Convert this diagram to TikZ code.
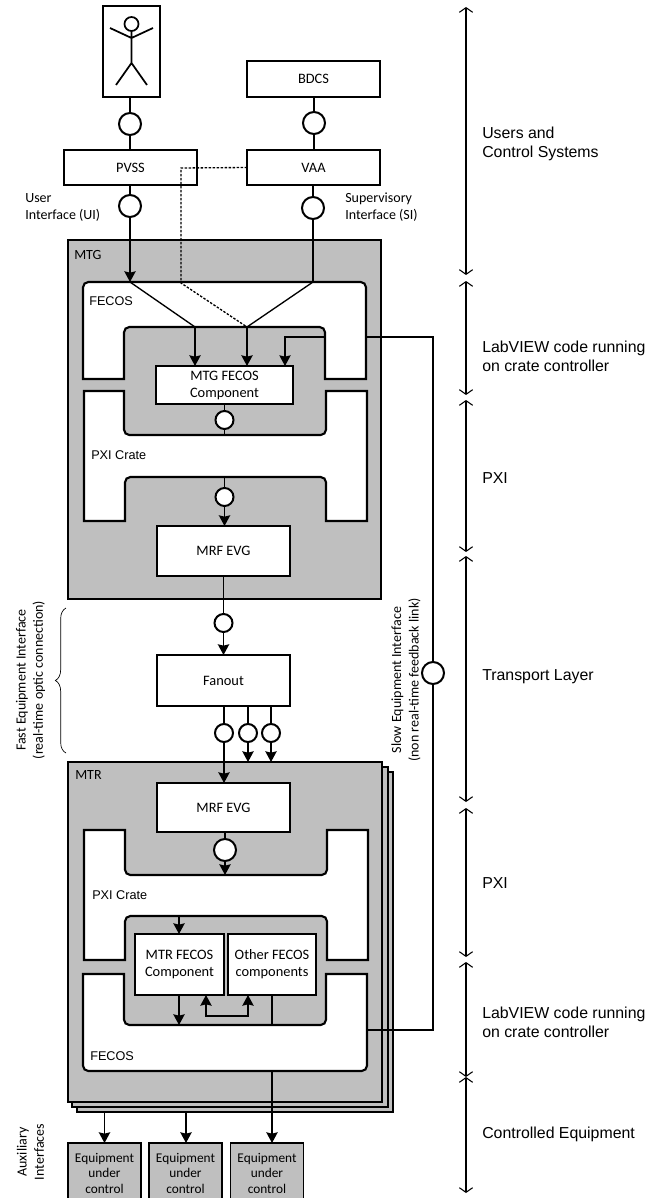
\documentclass[tikz,border=0pt]{standalone}
\usepackage{fontspec}
\setmainfont{Carlito}
\newfontfamily\arialfont{Liberation Sans}
\usetikzlibrary{arrows.meta, decorations.pathreplacing}
\definecolor{panelgray}{HTML}{BFBFBF}
\tikzset{
    boxsize/.style 2 args={minimum width=#1*0.75pt, minimum height=#2*0.75pt},
    block/.style={draw, line width=1.4pt, fill=white, inner sep=0pt, outer sep=0pt, align=center, font=\fontsize{10.8}{12.75}\selectfont},
    equip/.style={block, fill=panelgray, boxsize={73}{60}, font=\fontsize{10}{11.6}\selectfont},
    iface/.style={draw, circle, line width=1.5pt, fill=white, inner sep=0pt, outer sep=0pt, minimum size=16.5pt},
    smalliface/.style={iface, minimum size=13.5pt},
    panel/.style={draw, line width=1.6pt, fill=panelgray},
    crate/.style={draw, line width=1.6pt, fill=white},
    conn/.style={line width=1pt},
    thinconn/.style={line width=0.8pt},
    sidetext/.style={font=\arialfont\fontsize{11.9}{14.25}\selectfont, anchor=west, align=left, inner sep=0pt},
    inlabel/.style={font=\arialfont\fontsize{9.5}{12}\selectfont, anchor=west, inner sep=0pt},
    iflabel/.style={font=\fontsize{10.5}{12.75}\selectfont, anchor=west, align=left, inner sep=0pt},
    sidelabel/.style={font=\fontsize{10.5}{13}\selectfont, rotate=90, align=center, inner sep=0pt},
    span/.style={line width=0.8pt, {Straight Barb[length=3.5pt,width=10pt]}-{Straight Barb[length=3.5pt,width=10pt]}}
}
\begin{document}
\begin{tikzpicture}[x=0.75pt, y=-0.75pt, >={Stealth[inset=1pt,length=8pt,width=8.5pt]}]
    \useasboundingbox (0,0) rectangle (654,1198);

    \draw[panel] (77,772) rectangle (393,1112);
    \draw[panel] (72,767) rectangle (388,1107);
    \draw[panel] (68,240) rectangle (381,599);
    \draw[panel] (68,762) rectangle (382,1102);

    \draw[crate] (83,379) [rounded corners=4pt] -- (83,282) -- (366,282) [sharp corners] -- (366,379) -- (325,379) [rounded corners=4pt] -- (325,327) -- (124,327) [sharp corners] -- (124,379) -- cycle;
    \draw[crate] (84,391) -- (124,391) [rounded corners=4pt] -- (124,435) -- (326,435) [sharp corners] -- (326,391) -- (367,391) -- (367,521) -- (326,521) [rounded corners=4pt] -- (326,477) -- (125,477) [sharp corners] -- (125,521) -- (84,521) -- cycle;
    \draw[crate] (84,830) -- (125,830) [rounded corners=4pt] -- (125,875) -- (327,875) [sharp corners] -- (327,830) -- (368,830) -- (368,960) -- (327,960) [rounded corners=4pt] -- (327,916) -- (125,916) [sharp corners] -- (125,960) -- (84,960) -- cycle;
    \draw[crate] (83,974) -- (124,974) [rounded corners=4pt] -- (124,1025) -- (326,1025) [sharp corners] -- (326,974) -- (367,974) [rounded corners=4pt] -- (367,1071) -- (83,1071) [sharp corners] -- cycle;

    \node[block, boxsize={57}{91}] (user) at (131.5,51.5) {};
    \node[block, boxsize={133}{36}] (bdcs) at (313.5,79) {BDCS};
    \node[block, boxsize={133}{35}] (pvss) at (130.5,167.5) {PVSS};
    \node[block, boxsize={133}{35}] (vaa) at (313.5,167.5) {VAA};
    \node[block, boxsize={137}{38}] (mtgfecos) at (224.5,385) {MTG FECOS\\Component};
    \node[block, boxsize={133}{50}] (mtgevg) at (223.5,551) {MRF EVG};
    \node[block, boxsize={133}{51}] (fanout) at (223.5,680.5) {Fanout};
    \node[block, boxsize={133}{49}] (mtrevg) at (223.5,807.5) {MRF EVG};
    \node[block, boxsize={89}{61}] (mtrfecos) at (179.5,964.5) {MTR FECOS\\Component};
    \node[block, boxsize={88}{61}] (otherfecos) at (272,964.5) {Other FECOS\\components};
    \node[equip] (equipa) at (104.5,1173) {Equipment\\under\\control};
    \node[equip] (equipb) at (185.5,1173) {Equipment\\under\\control};
    \node[equip] (equipc) at (267,1173) {Equipment\\under\\control};

    \draw[line width=1.3pt] (131.5,24) circle (7);
    \draw[line width=1.3pt] (131.5,31) -- (131.5,63) (110,28) -- (131.5,38) -- (153,28) (116,85) -- (131.5,63) -- (147,85);

    \node[iface] (cuser) at (130,124) {};
    \node[iface] (cbdcs) at (314,123) {};
    \node[iface] (cui) at (130,206) {};
    \node[iface] (csi) at (313,208) {};
    \node[smalliface] (cmtgfecos) at (224.5,420) {};
    \node[smalliface] (cmtgcrate) at (224.5,497) {};
    \node[smalliface] (cevg) at (223.5,623) {};
    \node[smalliface] (cfana) at (224,733) {};
    \node[smalliface] (cfanb) at (248,733) {};
    \node[smalliface] (cfanc) at (271,733) {};
    \node[iface] (cmtr) at (225,850) {};
    \node[iface] (cslow) at (433,673) {};

    \coordinate (uihit) at (130,282);
    \coordinate (sihit) at (313,282);
    \coordinate (uisplit) at (195,327);
    \coordinate (sisplit) at (247,327);
    \coordinate (dotcorner) at (181,168);
    \coordinate (dotdown) at (181,283);
    \coordinate (mtgbusb) at (224.5,435);
    \coordinate (mtgbust) at (224.5,477);
    \coordinate (slowmtg) at (366,337);
    \coordinate (slowinner) at (325,337);
    \coordinate (slowout) at (433,337);
    \coordinate (slowbot) at (433,1030);
    \coordinate (slowmtr) at (367,1030);
    \coordinate (slowin) at (285,337);
    \coordinate (mtrtopb) at (248,762);
    \coordinate (mtrtopc) at (271,762);
    \coordinate (mtrcrate) at (225,875);
    \coordinate (mtrbus) at (179,916);
    \coordinate (mtrlow) at (179,1025);
    \coordinate (otherlow) at (272,1025);
    \coordinate (mtrfoot) at (272,1071);
    \coordinate (stacka) at (104.5,1112);
    \coordinate (stackb) at (186,1112);
    \coordinate (loopa) at (206,1016);
    \coordinate (loopb) at (248,1016);

    \draw[conn] (user.south -| cuser) -- (cuser);
    \draw[conn] (cuser) -- (pvss.north -| cuser);
    \draw[conn] (bdcs.south -| cbdcs) -- (cbdcs);
    \draw[conn] (cbdcs) -- (vaa.north -| cbdcs);
    \draw[conn] (pvss.south -| cui) -- (cui);
    \draw[conn] (vaa.south -| csi) -- (csi);
    \draw[conn, ->] (cui) -- (uihit);
    \draw[conn] (csi) -- (sihit);
    \draw[conn] (uihit) -- (uisplit);
    \draw[conn] (sihit) -- (sisplit);
    \draw[conn, ->] (uisplit) -- (uisplit |- mtgfecos.north);
    \draw[conn, ->] (sisplit) -- (sisplit |- mtgfecos.north);
    \draw[conn, dash pattern=on 1.8pt off 1.2pt] (vaa.west) -- (dotcorner) -- (dotdown) -- (sisplit);
    \draw[conn] (mtgfecos.south -| cmtgfecos) -- (cmtgfecos);
    \draw[conn] (cmtgfecos) -- (mtgbusb);
    \draw[conn] (mtgbust) -- (cmtgcrate);
    \draw[conn, ->] (cmtgcrate) -- (mtgevg.north -| cmtgcrate);
    \draw[conn] (mtgevg.south -| cevg) -- (cevg);
    \draw[conn, ->] (cevg) -- (fanout.north -| cevg);
    \draw[conn] (fanout.south -| cfana) -- (cfana);
    \draw[conn] (fanout.south -| cfanb) -- (cfanb);
    \draw[conn] (fanout.south -| cfanc) -- (cfanc);
    \draw[conn, ->] (cfana) -- (mtrevg.north -| cfana);
    \draw[conn, ->] (cfanb) -- (mtrtopb);
    \draw[conn, ->] (cfanc) -- (mtrtopc);
    \draw[conn] (mtrevg.south -| cmtr) -- (cmtr);
    \draw[conn, ->] (cmtr) -- (mtrcrate);
    \draw[conn, ->] (mtrbus) -- (mtrfecos.north -| mtrbus);
    \draw[conn, ->] (mtrfecos.south -| mtrlow) -- (mtrlow);
    \draw[conn, <->] (mtrfecos.south -| loopa) -- (loopa) -- (loopb) -- (otherfecos.south -| loopb);
    \draw[thinconn] (otherfecos.south -| otherlow) -- (otherlow);
    \draw[conn, ->] (mtrfoot) -- (equipc.north -| mtrfoot);
    \draw[conn, ->] (stacka) -- (equipa.north -| stacka);
    \draw[conn, ->] (stackb) -- (equipb.north -| stackb);
    \draw[thinconn] (slowmtg) -- (slowout) -- (cslow);
    \draw[thinconn] (cslow) -- (slowbot) -- (slowmtr);
    \draw[thinconn, ->] (slowinner) -- (slowin) -- (slowin |- mtgfecos.north);

    \coordinate (bracebot) at (66,753);
    \coordinate (bracetop) at (66,608);
    \draw[line width=0.5pt, decorate, decoration={brace, amplitude=8pt}] (bracebot) -- (bracetop);

    \foreach \n/\a/\b in {1/7/275, 2/281/395, 3/400/552, 4/556/802, 5/808/957, 6/962/1077, 7/1077/1193} {
        \coordinate (bar\n t) at (466,\a);
        \coordinate (bar\n b) at (466,\b);
        \draw[span] (bar\n t) -- (bar\n b);
    }

    \node[iflabel] (uilabel) at (25,207.5) {User\\Interface (UI)};
    \node[iflabel] (silabel) at (345,207) {Supervisory\\Interface (SI)};
    \node[iflabel] (mtglabel) at (74,255) {MTG};
    \node[inlabel] (fecosa) at (89,301) {FECOS};
    \node[inlabel] (pxia) at (91,455) {PXI Crate};
    \node[iflabel] (mtrlabel) at (75,775) {MTR};
    \node[inlabel] (pxib) at (92,895) {PXI Crate};
    \node[inlabel] (fecosb) at (90,1056) {FECOS};

    \node[sidelabel] (fastlabel) at (30.5,680) {Fast Equipment Interface\\(real-time optic connection)};
    \node[sidelabel] (slowlabel) at (406,680) {Slow Equipment Interface\\(non real-time feedback link)};
    \node[sidelabel] (auxlabel) at (30.5,1152) {Auxiliary\\Interfaces};

    \node[sidetext] (layera) at (482,144) {Users and\\Control Systems};
    \node[sidetext] (layerb) at (482,356.5) {LabVIEW code running\\on crate controller};
    \node[sidetext] (layerc) at (482,478) {PXI};
    \node[sidetext] (layerd) at (482,677) {Transport Layer};
    \node[sidetext] (layere) at (482,883) {PXI};
    \node[sidetext] (layerf) at (482,1022.5) {LabVIEW code running\\on crate controller};
    \node[sidetext] (layerg) at (482,1134) {Controlled Equipment};
\end{tikzpicture}
\end{document}
